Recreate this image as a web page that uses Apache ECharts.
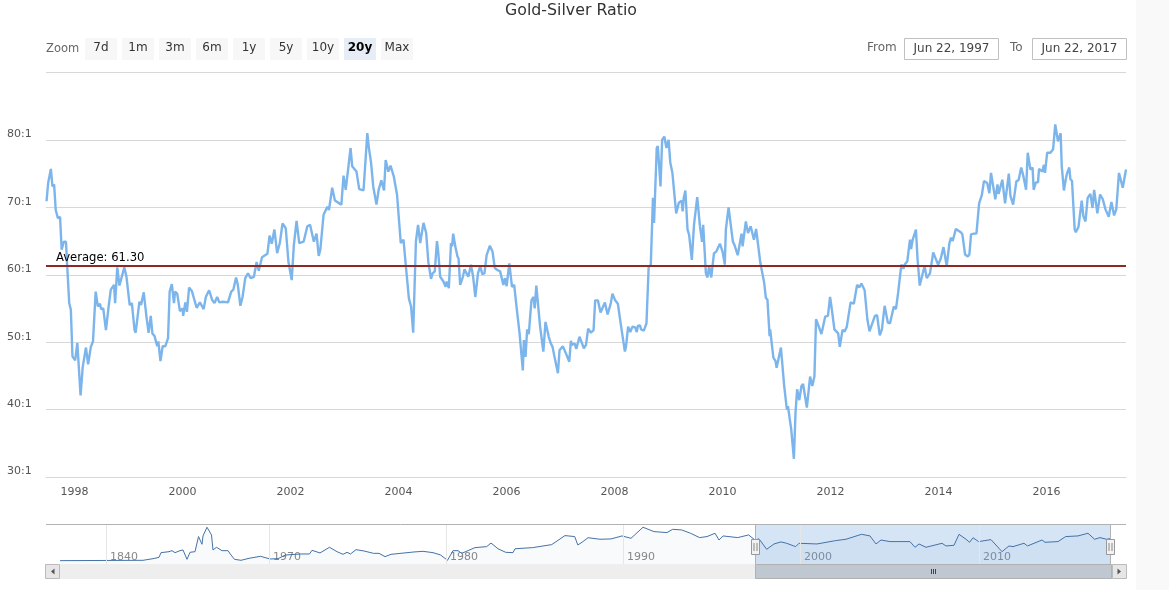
<!DOCTYPE html>
<html><head><meta charset="utf-8">
<style>html,body{margin:0;padding:0;background:#fff}#c{width:1169px;height:590px}</style>
<script src="https://cdn.jsdelivr.net/npm/echarts@6/dist/echarts.min.js"></script>
</head><body><div id="c"></div>
<script>
const ratioYears = [1997.48,1997.51,1997.56,1997.59,1997.62,1997.65,1997.69,1997.73,1997.76,1997.80,1997.84,1997.86,1997.90,1997.93,1997.96,1998.01,1998.05,1998.08,1998.11,1998.15,1998.17,1998.21,1998.25,1998.30,1998.34,1998.39,1998.43,1998.47,1998.49,1998.53,1998.58,1998.63,1998.67,1998.70,1998.73,1998.75,1998.79,1998.83,1998.86,1998.92,1998.96,1999.02,1999.06,1999.11,1999.13,1999.20,1999.23,1999.28,1999.33,1999.37,1999.41,1999.44,1999.48,1999.53,1999.55,1999.59,1999.63,1999.68,1999.73,1999.76,1999.80,1999.84,1999.86,1999.90,1999.95,2000.00,2000.01,2000.05,2000.08,2000.12,2000.17,2000.26,2000.32,2000.39,2000.43,2000.49,2000.55,2000.59,2000.64,2000.68,2000.74,2000.84,2000.90,2000.94,2000.99,2001.02,2001.07,2001.11,2001.16,2001.21,2001.26,2001.32,2001.37,2001.41,2001.47,2001.50,2001.57,2001.61,2001.65,2001.70,2001.75,2001.80,2001.85,2001.91,2001.96,2002.02,2002.06,2002.11,2002.16,2002.24,2002.31,2002.36,2002.43,2002.48,2002.52,2002.55,2002.61,2002.68,2002.71,2002.77,2002.82,2002.94,2002.98,2003.02,2003.11,2003.14,2003.22,2003.27,2003.35,2003.42,2003.45,2003.49,2003.53,2003.55,2003.59,2003.63,2003.68,2003.73,2003.76,2003.81,2003.85,2003.91,2003.97,2004.04,2004.09,2004.13,2004.19,2004.23,2004.27,2004.32,2004.36,2004.40,2004.46,2004.51,2004.55,2004.57,2004.60,2004.63,2004.67,2004.71,2004.73,2004.77,2004.83,2004.87,2004.89,2004.93,2004.97,2004.99,2005.01,2005.05,2005.09,2005.11,2005.14,2005.19,2005.22,2005.29,2005.34,2005.38,2005.42,2005.47,2005.51,2005.55,2005.59,2005.63,2005.69,2005.74,2005.78,2005.83,2005.88,2005.94,2005.97,2006.00,2006.05,2006.10,2006.14,2006.19,2006.24,2006.30,2006.32,2006.35,2006.38,2006.41,2006.46,2006.50,2006.52,2006.55,2006.62,2006.68,2006.72,2006.78,2006.82,2006.85,2006.90,2006.95,2006.98,2007.04,2007.10,2007.16,2007.19,2007.21,2007.26,2007.29,2007.35,2007.38,2007.43,2007.47,2007.51,2007.56,2007.61,2007.64,2007.69,2007.74,2007.82,2007.87,2007.93,2007.96,2008.01,2008.06,2008.11,2008.14,2008.19,2008.21,2008.25,2008.29,2008.33,2008.38,2008.41,2008.43,2008.47,2008.49,2008.54,2008.59,2008.63,2008.67,2008.71,2008.73,2008.78,2008.80,2008.83,2008.85,2008.88,2008.92,2008.96,2009.00,2009.03,2009.07,2009.14,2009.19,2009.24,2009.26,2009.28,2009.31,2009.35,2009.38,2009.43,2009.47,2009.53,2009.58,2009.62,2009.64,2009.69,2009.72,2009.75,2009.79,2009.84,2009.88,2009.90,2009.95,2010.00,2010.04,2010.06,2010.11,2010.14,2010.19,2010.22,2010.28,2010.35,2010.37,2010.43,2010.47,2010.52,2010.58,2010.62,2010.64,2010.70,2010.77,2010.80,2010.83,2010.87,2010.88,2010.94,2010.98,2011.00,2011.08,2011.14,2011.19,2011.21,2011.27,2011.32,2011.35,2011.38,2011.42,2011.46,2011.49,2011.56,2011.58,2011.62,2011.66,2011.70,2011.73,2011.75,2011.79,2011.83,2011.90,2011.95,2011.99,2012.02,2012.04,2012.07,2012.14,2012.17,2012.22,2012.26,2012.30,2012.37,2012.43,2012.49,2012.53,2012.57,2012.63,2012.68,2012.72,2012.75,2012.82,2012.86,2012.91,2012.95,2013.00,2013.06,2013.10,2013.17,2013.21,2013.25,2013.27,2013.31,2013.35,2013.37,2013.42,2013.47,2013.49,2013.52,2013.58,2013.61,2013.65,2013.74,2013.78,2013.84,2013.90,2013.93,2013.99,2014.04,2014.09,2014.11,2014.15,2014.20,2014.23,2014.26,2014.32,2014.41,2014.44,2014.49,2014.54,2014.57,2014.60,2014.65,2014.70,2014.75,2014.80,2014.84,2014.90,2014.94,2014.97,2015.00,2015.05,2015.09,2015.11,2015.18,2015.23,2015.30,2015.33,2015.38,2015.44,2015.48,2015.53,2015.57,2015.62,2015.65,2015.70,2015.74,2015.76,2015.80,2015.84,2015.86,2015.92,2015.95,2015.97,2016.01,2016.07,2016.12,2016.16,2016.21,2016.26,2016.28,2016.32,2016.36,2016.38,2016.42,2016.44,2016.47,2016.52,2016.54,2016.59,2016.65,2016.68,2016.72,2016.76,2016.81,2016.85,2016.88,2016.94,2016.99,2017.04,2017.09,2017.15,2017.20,2017.22,2017.25,2017.29,2017.34,2017.37,2017.41,2017.47];
const ratioValues = [70.9,73.6,75.7,73.1,73.4,69.6,68.4,68.6,63.7,64.9,64.9,61.7,55.8,54.8,47.9,47.3,49.9,49.9,42.1,46.3,46.2,49.2,46.7,49.3,50.1,57.5,55.3,55.7,54.9,55.0,51.8,55.3,57.8,58.0,58.5,55.8,61.1,58.4,58.6,61.1,59.7,55.5,55.8,51.8,51.4,56.0,55.5,57.4,53.8,51.4,53.9,51.3,50.9,49.4,50.1,47.2,49.4,49.4,50.6,57.5,58.6,55.8,57.5,57.2,54.6,55.0,53.9,55.9,54.5,58.1,57.6,55.1,55.9,54.9,56.7,57.7,56.2,55.8,56.7,55.9,56.0,55.9,57.5,57.8,59.6,58.6,55.4,56.7,59.5,60.2,59.5,59.7,61.9,60.6,62.6,62.8,63.1,65.8,64.6,66.7,63.2,64.7,67.6,66.9,61.9,59.2,64.4,68.0,64.7,64.9,67.2,67.4,64.9,66.1,62.8,63.7,68.9,70.1,69.6,72.9,71.0,70.4,74.7,72.6,78.8,76.1,75.3,72.7,72.5,81.0,78.8,76.6,73.1,73.1,70.4,72.6,74.0,72.5,77.0,75.3,76.2,74.6,71.9,64.7,65.2,61.7,56.5,55.3,51.4,64.9,67.4,64.7,67.7,66.2,61.9,61.9,59.4,60.2,60.5,65.0,63.7,59.7,59.0,58.2,59.0,58.0,64.7,64.2,66.1,64.2,62.7,62.4,58.5,59.7,60.8,59.7,61.5,59.7,56.7,60.2,61.3,60.1,60.2,62.9,64.3,63.4,61.0,60.7,60.5,58.5,59.5,58.3,61.7,58.2,58.5,54.8,51.3,45.8,50.3,47.8,51.9,51.2,56.2,56.7,55.0,58.4,52.3,48.6,53.0,50.8,49.8,49.3,47.3,45.4,48.8,49.4,48.3,47.1,50.2,49.6,49.8,49.0,50.8,50.9,49.1,49.6,52.0,51.4,51.8,56.2,56.2,54.4,55.9,54.1,55.8,57.2,56.2,55.7,52.9,52.9,48.6,49.3,52.3,51.5,52.3,52.2,51.5,52.4,52.5,51.9,51.7,52.8,61.1,61.5,71.4,67.7,78.8,79.1,79.3,73.1,80.0,80.5,78.8,80.0,76.7,75.1,69.1,70.7,71.0,69.4,71.4,72.5,66.7,65.9,62.2,67.4,71.5,67.2,64.9,67.4,60.2,59.6,61.3,59.6,63.2,63.4,63.2,64.6,63.4,61.5,66.7,70.0,70.0,64.9,64.4,62.9,66.1,64.2,67.9,66.2,67.2,65.2,66.8,66.7,61.7,58.8,56.6,56.3,50.9,51.9,47.7,47.2,46.2,49.2,43.5,40.0,40.5,37.1,32.7,39.6,43.0,41.4,43.5,43.8,40.3,40.3,44.9,43.5,44.9,53.4,53.4,52.1,51.2,53.8,53.9,56.7,55.0,54.9,51.9,51.3,49.3,51.8,51.6,52.3,55.9,55.7,58.5,58.1,58.7,57.7,53.4,51.6,51.4,53.9,54.0,51.0,51.9,55.4,52.9,52.8,55.3,54.9,57.3,57.1,61.5,60.9,61.5,62.0,65.2,63.8,65.2,66.7,62.3,58.4,61.3,59.5,60.2,63.3,63.3,61.5,62.4,64.1,64.0,61.3,64.7,65.5,65.0,66.8,66.3,66.0,63.0,62.7,63.0,66.0,66.1,66.1,70.6,71.8,73.9,73.6,72.1,75.1,75.2,71.2,73.4,72.0,74.1,70.6,75.0,71.7,70.4,73.9,74.0,75.9,74.6,72.6,78.1,75.6,75.9,72.6,73.7,73.7,75.7,75.3,76.3,75.1,78.1,78.1,78.6,82.3,79.8,81.0,76.1,72.5,74.4,75.1,75.9,74.2,73.9,66.7,66.3,67.1,71.0,68.7,67.9,71.4,72.0,69.9,72.6,69.1,71.9,71.2,69.7,68.6,70.8,70.8,68.8,69.7,75.1,75.0,72.9,75.6];
const averageRatio = 61.30;
const yearTicks = [1998,2000,2002,2004,2006,2008,2010,2012,2014,2016];
const navPositions = [14,97,107,113,115,123,126,129,134,137,141,144,149,152.5,154,156,157,161,163,165.5,167,170.5,176,182,185,188.5,195,203,214.5,224,232,239.5,255,263.5,266,274,283.5,291,297,301,304.5,310,318,327.5,333,339,345,368,377,387,394.6,401.5,407,412,415.7,429,440.6,445,452,459.7,467,469,486.6,505.7,519,528.7,531.8,536,542,554,565,576,585,597,608,621,626.5,635.5,644.6,653.6,661,669,673,677,691.7,702.6,709,713,720.7,728,735,740.6,749.7,753,771,789.5,800,815.6,824,830,835,844,864,869,873,880,896,900,908,913,920,923.6,927,932.6,945,956,963,967,978,981.5,996,999,1012,1019.6,1032,1042,1048.6,1054,1060.5,1064.5];
const navValues = [8.8,9.7,14,17.5,29.8,32.4,35,29.8,35,36.8,12.3,30.7,32.4,72,74.6,51.8,73.7,96.5,96.5,76.3,36.8,43.9,35,35,23.7,12.3,9.7,14.9,20.2,13.2,14,23.7,26.3,26.3,36,29,43.9,32.4,25.4,30.7,26.3,37.7,34.2,28,28,19.3,25.4,31.6,33.3,29.8,23.7,9.7,35,35,28,43,45.6,55,40,30.7,29.8,40,43,50.9,74.6,72,50,57,69,65,65.8,73.7,67.5,96.5,85,82.5,91,89.5,80.7,69.3,72,80.7,63,73.7,69.3,76.3,63,66,38.6,52.6,58,54.4,45.6,54.4,52.6,61.4,65,78,73.7,52.6,63,58.8,58.8,43.9,52.6,43.9,54.4,47.4,49.1,78,65,57,69,58.8,64,32.4,47.4,45.6,54.4,47.4,63,57,58.8,72,73.7,80.7,65,69.3,65,66.7];
const navTickPositions = [60,223,400,577,754,933];
const navTickLabels = ['1840','1970','1980','1990','2000','2010'];
const navSelection = [709,1065];
const zoomButtons = ['7d','1m','3m','6m','1y','5y','10y','20y','Max'];
const activeButton = '20y';
const fromDate = 'Jun 22, 1997';
const toDate = 'Jun 22, 2017';
const FONT = '"DejaVu Sans", sans-serif';

const pair = (xs, ys) => xs.map((x, i) => [x, ys[i]]);
const txt = (x, y, text, o = {}) => ({ type: 'text', z: 120, x, y, style: Object.assign({ text, font: (o.bold ? 'bold ' : '') + (o.size || 12) + 'px ' + FONT, fill: o.fill || '#666', textAlign: o.align || 'left', textVerticalAlign: 'middle' }) });
const rect = (x, y, w, h, fill, stroke, z = 110) => ({ type: 'rect', z, shape: { x, y, width: w, height: h }, style: { fill, stroke: stroke || null, lineWidth: stroke ? 1 : 0 } });
const seg = (x1, y1, x2, y2, stroke, z = 115) => ({ type: 'line', z, shape: { x1, y1, x2, y2 }, style: { stroke, lineWidth: 1 } });

const g = [];
g.push(rect(1136, 0, 33, 590, '#f9f9f9', null, 1));
g.push(txt(46, 49, 'Zoom', { size: 11.5 }));
zoomButtons.forEach((b, i) => {
  const x = 85 + i * 37, on = b === activeButton;
  g.push(rect(x, 38, 32, 22, on ? '#e6edf6' : '#f7f7f7'));
  g.push(txt(x + 16, 48, b, { fill: on ? '#000' : '#333', bold: on, align: 'center' }));
});
g.push(txt(867, 48, 'From'));
g.push(rect(904.5, 38.5, 94, 21, '#fff', '#c0c0c0'));
g.push(txt(951.5, 49, fromDate, { fill: '#444', align: 'center' }));
g.push(txt(1010, 48, 'To'));
g.push(rect(1032.5, 38.5, 94, 21, '#fff', '#c0c0c0'));
g.push(txt(1079.5, 49, toDate, { fill: '#444', align: 'center' }));
// navigator frame and scrollbar
g.push(seg(46, 524.5, 755, 524.5, '#b2b2b2'));
g.push(seg(755, 524.5, 1111, 524.5, '#b2b2b2'));
g.push(seg(1111, 524.5, 1126, 524.5, '#b2b2b2'));
g.push(seg(755.5, 524, 755.5, 564, '#b2b2b2'));
g.push(seg(1110.5, 524, 1110.5, 564, '#b2b2b2'));
g.push(rect(46, 564, 1080, 15, '#eeeeee'));
g.push(rect(45.5, 564.5, 14, 14, '#e6e6e6', '#bbbbbb', 112));
g.push(rect(1112.5, 564.5, 14, 14, '#e6e6e6', '#bbbbbb', 112));
g.push(rect(755.5, 564.5, 356, 14, '#bfc8d0', '#b0b0b0', 112));
g.push({ type: 'polygon', z: 116, shape: { points: [[54.5, 568.5], [54.5, 574.5], [51, 571.5]] }, style: { fill: '#555' } });
g.push({ type: 'polygon', z: 116, shape: { points: [[1117.5, 568.5], [1117.5, 574.5], [1121, 571.5]] }, style: { fill: '#555' } });
[931.5, 933.5, 935.5].forEach(x => g.push(seg(x, 569, x, 574, '#444')));
[755.5, 1110.5].forEach(cx => {
  g.push(rect(cx - 4, 539.5, 8, 15, '#f2f2f2', '#999999', 118));
  g.push(seg(cx - 1.5 + .0, 543, cx - 1.5, 551, '#888', 119));
  g.push(seg(cx + 1.5, 543, cx + 1.5, 551, '#888', 119));
});

const chart = echarts.init(document.getElementById('c'), null, { renderer: 'canvas' });
chart.setOption({
  animation: false,
  backgroundColor: '#fff',
  textStyle: { fontFamily: FONT },
  title: { text: 'Gold-Silver Ratio', left: 566, top: -2, textAlign: 'center', textStyle: { fontFamily: FONT, fontSize: 15.8, fontWeight: 'normal', color: '#333' } },
  grid: [
    { left: 46, right: 43, top: 72.5, height: 404.5 },
    { left: 46, right: 43, top: 524, height: 40 }
  ],
  xAxis: [
    { type: 'value', gridIndex: 0, min: 1997.47, max: 2017.47,
      axisLine: { lineStyle: { color: '#d8d8d8' } },
      axisTick: { show: false, customValues: yearTicks },
      splitLine: { show: false },
      axisLabel: { customValues: yearTicks, formatter: v => String(v), color: '#555', fontSize: 11, margin: 10, fontFamily: FONT } },
    { type: 'value', gridIndex: 1, min: 0, max: 1080,
      axisLine: { show: false }, axisTick: { show: false, customValues: navTickPositions },
      splitLine: { show: false },
      axisLabel: { inside: true, customValues: navTickPositions,
        formatter: v => navTickLabels[navTickPositions.indexOf(v)] || '',
        color: '#888', fontSize: 11, align: 'left', verticalAlign: 'bottom', margin: 1, padding: [0, 0, 0, 4], fontFamily: FONT } }
  ],
  yAxis: [
    { type: 'value', gridIndex: 0, min: 30, max: 90, interval: 10,
      axisLine: { show: false }, axisTick: { show: false },
      splitLine: { lineStyle: { color: '#d8d8d8', width: 1 } },
      axisLabel: { formatter: v => v === 90 ? '' : v + ':1', color: '#555', fontSize: 11, align: 'left', verticalAlign: 'bottom', margin: 39, lineHeight: 11, padding: [0, 0, 0, 0], fontFamily: FONT } },
    { type: 'value', gridIndex: 1, min: 0, max: 105, show: false }
  ],
  series: [
    { type: 'line', xAxisIndex: 0, yAxisIndex: 0, data: pair(ratioYears, ratioValues), showSymbol: false, silent: true,
      lineStyle: { color: '#7cb5ec', width: 2.4 }, z: 3,
      markLine: { silent: true, symbol: 'none', animation: false, z: 5,
        lineStyle: { color: '#8f2a22', width: 2, type: 'solid' },
        label: { position: 'insideStartTop', formatter: 'Average: ' + averageRatio.toFixed(2), color: '#000', fontSize: 11.6, fontFamily: FONT, distance: [10, 2] },
        data: [{ yAxis: averageRatio }] } },
    { type: 'line', xAxisIndex: 1, yAxisIndex: 1, data: pair(navPositions, navValues), showSymbol: false, silent: true,
      lineStyle: { color: '#4572a7', width: 1 }, areaStyle: { color: 'rgba(69,114,167,0.05)' },
      markArea: { silent: true, itemStyle: { color: 'rgba(102,160,220,0.27)' }, data: [[{ xAxis: navSelection[0] }, { xAxis: navSelection[1] }]] },
      markLine: { silent: true, symbol: 'none', label: { show: false }, lineStyle: { color: '#e6e6e6', width: 1, type: 'solid' },
        data: navTickPositions.map(p => ({ xAxis: p })) } }
  ],
  graphic: { elements: g }
});
</script></body></html>
